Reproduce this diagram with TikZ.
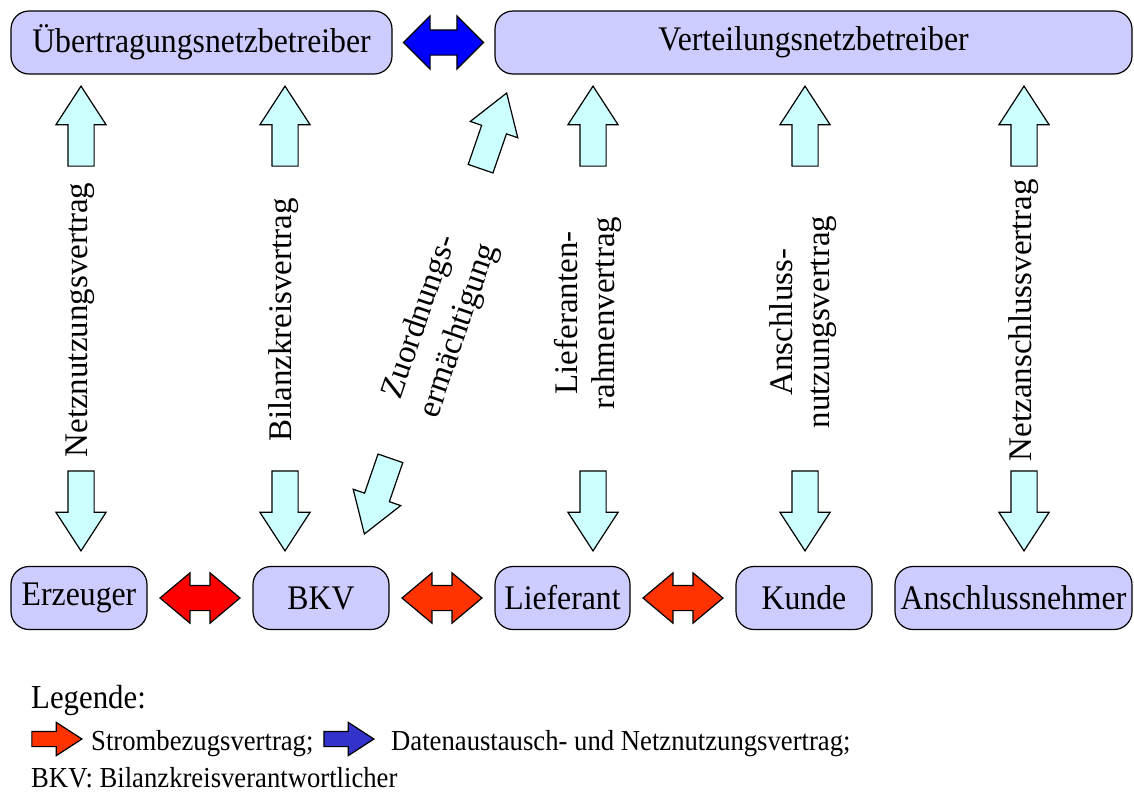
\documentclass[tikz,border=0pt]{standalone}
\usepackage{fontspec}
\setmainfont{Liberation Serif}
\newfontfamily\boxfont[FakeStretch=0.92]{Liberation Serif}
\usetikzlibrary{shapes.arrows,calc,positioning}
\definecolor{boxblue}{HTML}{CCCCFF}
\definecolor{lightcyan}{HTML}{CCFFFF}
\definecolor{dealred}{HTML}{FF3300}
\definecolor{legblue}{HTML}{3333CC}
\tikzstyle{box}=[draw,rounded corners=18pt,fill=boxblue,line width=1.2pt,
  minimum height=63pt,inner sep=0pt,font=\boxfont\fontsize{34.5}{40}\selectfont]
\tikzstyle{flow}=[draw,single arrow,fill=lightcyan,line width=1.2pt,anchor=tip,
  inner xsep=0pt,inner ysep=12.5pt,minimum height=80pt,
  single arrow head extend=12pt,single arrow tip angle=66]
\tikzstyle{deal}=[draw,double arrow,fill=dealred,line width=1.2pt,
  inner xsep=0pt,inner ysep=12pt,minimum height=80pt,
  double arrow head extend=12.5pt,double arrow tip angle=80]
\tikzstyle{keyarrow}=[draw,single arrow,line width=1.2pt,anchor=tip,
  inner xsep=0pt,inner ysep=7pt,minimum height=50pt,
  single arrow head extend=9pt,single arrow tip angle=66]
\tikzstyle{contract}=[rotate=90,align=center,font=\fontsize{33}{37}\selectfont]
\tikzstyle{legtext}=[anchor=base west,inner sep=0pt,
  font=\boxfont\fontsize{29}{33}\selectfont]

\begin{document}
\begin{tikzpicture}[x=1pt,y=-1pt]
  \useasboundingbox (0,0) rectangle (1134,796);

  % Netzbetreiber
  \node[box,minimum width=381pt] (uenb) at (201.5,42.5) {Übertragungsnetzbetreiber};
  \node[box,minimum width=637pt] (vnb) at (813.5,42.5) {Verteilungsnetzbetreiber};
  \node[deal,fill=blue,double arrow head extend=14pt,double arrow tip angle=90]
    (daten) at ($(uenb.east)!.5!(vnb.west)$) {};

  % Marktteilnehmer
  \node[box,minimum width=136pt] (erz) at (79,598) {Erzeuger};
  \node[box,minimum width=136pt] (bkv) at (321,598) {BKV};
  \node[box,minimum width=135pt] (lief) at (562.5,598) {Lieferant};
  \node[box,minimum width=136pt] (kunde) at (804,598) {Kunde};
  \node[box,minimum width=237pt] (ansn) at (1013.5,598) {Anschlussnehmer};

  \node[deal,fill=red] (s1) at ($(erz.east)!.5!(bkv.west)$) {};
  \node[deal] (s2) at ($(bkv.east)!.5!(lief.west)$) {};
  \node[deal] (s3) at ($(lief.east)!.5!(kunde.west)$) {};

  % Vertraege (Pfeile am Spitzenpunkt gesetzt)
  \node[flow,rotate=90] (u1) at (81,85) {};
  \node[flow,rotate=-90] (d1) at (81,552) {};
  \node[contract] (netz) at (80,320) {Netznutzungsvertrag};

  \node[flow,rotate=90] (u2) at (285,85) {};
  \node[flow,rotate=-90] (d2) at (285,552) {};
  \node[contract] (bil) at (284,320) {Bilanzkreisvertrag};

  \node[flow,rotate=71] (u3) at (507,92) {};
  \node[flow,rotate=-109] (d3) at (364,535) {};
  \node[contract,rotate=-19,font=\fontsize{33}{41}\selectfont] (zuo)
    at (440,324) {Zuordnungs-\\ermächtigung};

  \node[flow,rotate=90] (u4) at (593,85) {};
  \node[flow,rotate=-90] (d4) at (593,552) {};
  \node[contract] (rahmen) at (588,313) {Lieferanten-\\rahmenvertrag};

  \node[flow,rotate=90] (u5) at (805,85) {};
  \node[flow,rotate=-90] (d5) at (805,552) {};
  \node[contract] (anu) at (803,322) {Anschluss-\\nutzungsvertrag};

  \node[flow,rotate=90] (u6) at (1024,85) {};
  \node[flow,rotate=-90] (d6) at (1024,552) {};
  \node[contract] (nanschl) at (1024,320) {Netzanschlussvertrag};

  % Legende
  \node[legtext,font=\boxfont\fontsize{33.5}{38}\selectfont] (leg) at (31,708) {Legende:};
  \node[keyarrow,fill=dealred] (kr) at (83,739) {};
  \node[legtext] (kt1) at (91,750) {Strombezugsvertrag;};
  \node[keyarrow,fill=legblue] (kb) at (375,739) {};
  \node[legtext] (kt2) at (391,750) {Datenaustausch- und Netznutzungsvertrag;};
  \node[legtext] (kt3) at (31,787) {BKV: Bilanzkreisverantwortlicher};
\end{tikzpicture}
\end{document}
